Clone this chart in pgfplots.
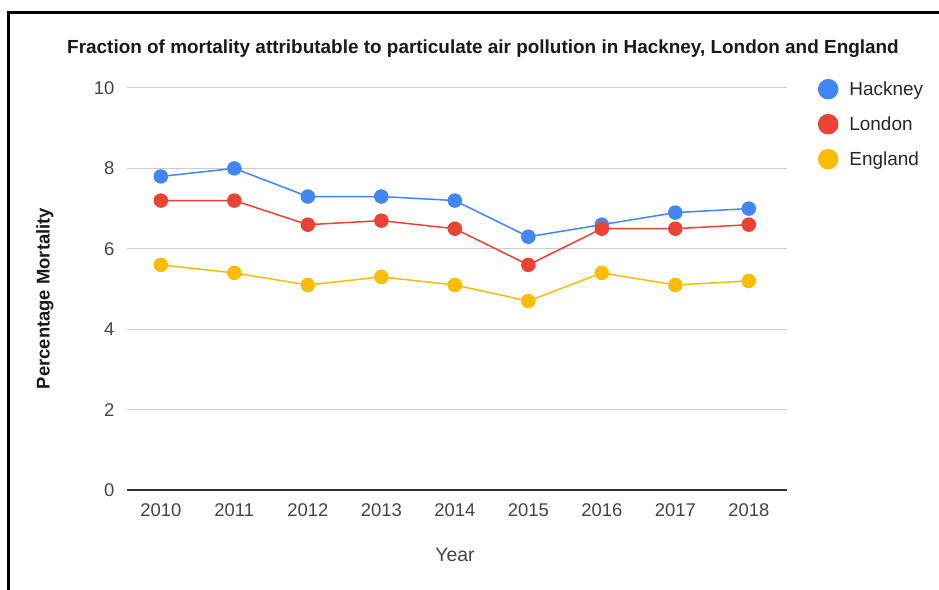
\documentclass[border=0pt]{standalone}
\usepackage{fontspec}
\setmainfont{Liberation Sans}
\usepackage{pgfplots}
\pgfplotsset{compat=1.18}

\definecolor{hblue}{HTML}{4285F4}
\definecolor{lred}{HTML}{EA4335}
\definecolor{eyellow}{HTML}{FBBC04}
\definecolor{ticktext}{HTML}{444444}
\definecolor{gridgrey}{HTML}{CCCCCC}
\definecolor{axisgrey}{HTML}{333333}

\begin{document}
\begin{tikzpicture}
\path[use as bounding box] (0bp,0bp) rectangle (939bp,590bp);
% frame
\draw[line width=2.6bp] (8.5bp,0bp) -- (8.5bp,577.5bp) -- (939bp,577.5bp);

\begin{axis}[
  at={(127bp,100bp)}, anchor=south west,
  scale only axis, width=660bp, height=402bp,
  xmin=-0.46, xmax=8.52, ymin=0, ymax=10,
  xtick={0,...,8},
  xticklabels={2010,2011,2012,2013,2014,2015,2016,2017,2018},
  ytick={0,2,4,6,8,10},
  axis x line=bottom, axis y line=left,
  x axis line style={draw=axisgrey, line width=1.3bp, -},
  y axis line style={draw=none},
  major tick length=0pt,
  ymajorgrids, grid style={draw=gridgrey, line width=1bp},
  /pgf/number format/assume math mode=true,
  ticklabel style={font=\fontsize{18.5}{22}\selectfont, text=ticktext},
  yticklabel style={xshift=-9bp},
  xticklabel style={yshift=-10bp},
  legend style={at={(1.042,1.028)}, anchor=north west, draw=none, fill=none,
    font=\fontsize{19}{22}\selectfont, text=black!85, row sep=14.5bp,
    nodes={inner sep=1bp}},
  legend cell align=left,
  legend image code/.code={\fill[#1] (9.5bp,0bp) circle (9.5bp);},
  every axis plot/.append style={line width=1.5bp, mark=*, mark size=6.5bp},
  clip=false,
]
\addplot[color=hblue, mark options={fill=hblue, draw=hblue}] coordinates {
  (0,7.8) (1,8.0) (2,7.3) (3,7.3) (4,7.2) (5,6.3) (6,6.6) (7,6.9) (8,7.0)};
\addlegendentry{\hspace{10bp}Hackney}
\addplot[color=lred, mark options={fill=lred, draw=lred}] coordinates {
  (0,7.2) (1,7.2) (2,6.6) (3,6.7) (4,6.5) (5,5.6) (6,6.5) (7,6.5) (8,6.6)};
\addlegendentry{\hspace{10bp}London}
\addplot[color=eyellow, mark options={fill=eyellow, draw=eyellow}] coordinates {
  (0,5.6) (1,5.4) (2,5.1) (3,5.3) (4,5.1) (5,4.7) (6,5.4) (7,5.1) (8,5.2)};
\addlegendentry{\hspace{10bp}England}
\end{axis}

\node[font=\bfseries\fontsize{19}{22}\selectfont, text=black!90] at (483bp,541bp)
  {Fraction of mortality attributable to particulate air pollution in Hackney, London and England};
\node[font=\bfseries\fontsize{18.5}{22}\selectfont, text=black!90, rotate=90] at (45bp,291.5bp)
  {Percentage Mortality};
\node[font=\fontsize{19.5}{22}\selectfont, text=ticktext] at (455bp,35bp) {Year};
\end{tikzpicture}
\end{document}
